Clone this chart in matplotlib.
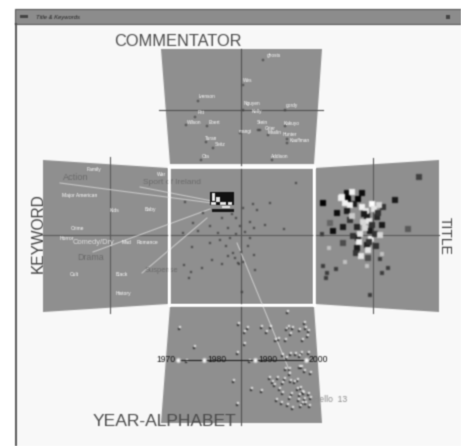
import matplotlib
matplotlib.use('Agg')
import matplotlib.pyplot as plt
import numpy as np
from matplotlib.patches import Polygon, Rectangle

plt.rcParams['font.family'] = ['Liberation Sans', 'DejaVu Sans']

# панели (пиксели картинки)
top_panel = [(161, 49), (322, 49), (314, 164), (170, 164)]
left_panel = [(43, 160), (168, 168), (168, 304), (43, 312)]
center_panel = [(170, 168), (313, 168), (313, 304), (170, 304)]
right_panel = [(315, 168), (439, 160), (439, 312), (315, 304)]
bottom_panel = [(170, 306), (314, 306), (322, 423), (161, 423)]

# подписи комментаторов
comm_names = ['ghosts', 'Wes', 'Ivenson', 'Nguyen', 'gordy', 'Kelly', 'Pitt', 'Wilson', 'Ebert',
              'Stein', 'Grier', 'mangi', 'Maslin', 'Hunter', 'Kauffman', 'Kakuyo',
              'Turan', 'Seitz', 'Ota', 'Addison']
comm_x = [274, 248, 207, 252, 292, 257, 201, 194, 214, 262, 270, 245, 275, 290, 300, 292,
          211, 220, 206, 280]
comm_y = [56, 81, 97, 104, 105, 112, 113, 123, 123, 122, 128, 131, 132, 135, 140, 123,
          139, 145, 156, 156]
comm_dot_x = [263, 243, 198, 243, 285, 243, 195, 186, 207, 258, 260, 240, 268, 287, 287, 285,
              206, 213, 201, 272]
comm_dot_y = [60, 85, 101, 110, 110, 110, 117, 125, 126, 130, 130, 133, 135, 139, 143, 126,
              142, 148, 160, 160]

# жанры (большие серые)
genre_names = ['Action', 'Sport of Ireland', 'Comedy/Dry', 'Drama', 'Suspense']
genre_x = [63, 143, 73, 77, 145]
genre_y = [178, 182, 242, 257, 271]
genre_size = [6.6, 6.0, 5.4, 6.4, 5.4]
genre_color = ['#6a6a6a', '#6a6a6a', '#e0e0e0', '#6a6a6a', '#6a6a6a']

kw_names = ['Family', 'War', 'Major American', 'Kids', 'Baby', 'Crime', 'Horror', 'Mad', 'Romance',
            'Cult', 'Black', 'History']
kw_x = [87, 157, 62, 110, 145, 71, 60, 122, 137, 70, 116, 116]
kw_y = [169, 175, 196, 211, 209, 228, 239, 243, 243, 275, 274, 294]

# линии от жанров к скоплению
link_x0 = [60, 140, 93, 142, 237]
link_y0 = [183, 187, 252, 273, 243]
link_x1 = [212, 212, 210, 207, 290]
link_y1 = [203, 201, 209, 218, 372]

# точки центральной панели
center_x = [185, 193, 198, 183, 192, 210, 212, 184, 191, 189, 202, 222, 239, 203, 210, 222, 228, 230, 220,
            233, 243, 296, 270, 253, 257, 265, 254, 250, 255, 254, 238, 242, 250, 284, 236, 232, 240, 226,
            245, 236, 248, 228, 235, 243, 218, 241]
center_y = [202, 223, 231, 233, 247, 243, 260, 265, 272, 278, 268, 264, 264, 213, 226, 218, 228, 238, 240,
            253, 208, 183, 203, 204, 210, 225, 228, 222, 270, 255, 263, 292, 238, 229, 218, 214, 226, 246,
            232, 234, 246, 256, 258, 262, 233, 252]

# скопление заглавий: x, y, яркость (0 чёрный, 1 белый)
title_x = [347, 362, 348, 358, 337, 347, 367, 377, 382, 333, 343, 357, 370, 358, 367, 357, 343, 323, 395, 419,
           408, 330, 383, 352, 341, 372, 362, 366, 374, 379, 354, 369, 363, 360, 371, 375, 359, 350, 378, 364,
           372, 352, 369, 368, 356, 380, 353, 365, 361, 376, 368, 342, 345, 350]
title_y = [193, 193, 199, 199, 213, 211, 216, 217, 225, 231, 227, 227, 231, 238, 245, 248, 243, 203, 200, 177,
           229, 223, 207, 192, 198, 204, 207, 211, 209, 205, 204, 221, 222, 234, 239, 234, 242, 220, 213, 214,
           225, 216, 242, 250, 253, 235, 236, 228, 256, 246, 258, 197, 203, 205]
title_tone = [0.05, 0.05, 0.0, 0.0, 0.05, 0.1, 0.1, 0.15, 0.1, 0.05, 0.1, 0.15, 0.1, 0.05, 0.1, 0.1, 0.3, 0.0, 0.1, 0.25,
              0.35, 0.4, 0.2, 0.95, 0.95, 1.0, 0.95, 0.9, 0.9, 0.85, 0.1, 0.9, 0.85, 0.9, 0.95, 0.2, 0.95, 0.2, 0.2, 0.1,
              0.2, 0.8, 0.2, 0.9, 0.2, 0.85, 0.2, 0.85, 0.9, 0.2, 0.3, 0.95, 0.95, 0.95]

# редкие мелкие точки заглавий
title_low_x = [323, 327, 326, 336, 382, 388, 380, 370, 322]
title_low_y = [266, 273, 278, 269, 273, 268, 259, 295, 234]
title_light_x = [329, 345, 367, 382]
title_light_y = [248, 262, 266, 254]

# белые пятна в чёрном блоке центра
blob_x = [212, 216, 220, 228, 211, 222]
blob_y = [193, 197, 202, 202, 202, 206]
blob_w = [3, 4, 6, 4, 5, 8]
blob_h = [8, 5, 3, 3, 3, 2]

# год-алфавит: белые точки со смещённой тёмной
year_x = [180, 195, 239, 245, 248, 245, 238, 187, 234, 250, 262, 267, 271, 276, 279, 286, 287, 289, 291, 293,
          300, 303, 308, 288, 305, 306, 309, 296, 302, 287, 291, 300, 309, 283, 286, 290, 302, 305, 311, 298,
          300, 290, 291, 283, 295, 292, 301, 304, 305, 309, 306, 262, 252, 238, 270, 273, 278, 275, 280, 285,
          283, 290, 277, 282, 299, 301, 303, 288, 293, 300, 303, 311, 298, 310]
year_y = [327, 346, 323, 331, 327, 343, 352, 360, 380, 360, 326, 331, 326, 339, 338, 339, 328, 326, 333, 327,
          329, 339, 335, 311, 322, 327, 330, 353, 352, 357, 353, 355, 352, 354, 368, 368, 366, 370, 372, 379,
          366, 373, 380, 382, 381, 393, 387, 392, 398, 393, 402, 390, 388, 403, 377, 381, 377, 384, 388, 378,
          392, 397, 399, 402, 399, 405, 402, 404, 407, 394, 391, 397, 388, 405]

year_labels = ['1970', '1980', '1990', '2000']
year_tick_x = [178, 204, 255, 306]
year_axis_y = 360


def soften(image, dpi):
    # лёгкое размытие как на скане
    pad = 2
    a = np.pad(image, ((pad, pad), (pad, pad), (0, 0)))
    a[..., :3] *= a[..., 3:]
    for axis in (0, 1):
        a = 0.2 * np.roll(a, 1, axis) + 0.6 * a + 0.2 * np.roll(a, -1, axis)
    alpha = np.clip(a[..., 3:], 1e-4, None)
    a[..., :3] = np.clip(a[..., :3] / alpha, 0, 1)
    return a, -pad, -pad


fig = plt.figure(figsize=(4.61, 4.46), dpi=100, facecolor='white')
ax = fig.add_axes([0, 0, 1, 1])
ax.set_xlim(0, 461)
ax.set_ylim(446, 0)
ax.axis('off')

# окно
ax.add_patch(Rectangle((16, 9), 445, 437, fc='#f8f8f8', ec='none', zorder=0))
ax.add_patch(Rectangle((15, 9), 446, 15, fc='#8c8c8c', ec='#5a5a5a', lw=0.8, zorder=1))
ax.plot([16, 16], [24, 446], color='#555555', lw=1.4, zorder=1)
ax.text(36, 17, 'Title & Keywords', fontsize=4.2, style='italic', color='#222222', va='center', zorder=2)
ax.add_patch(Rectangle((20, 15), 8, 3, fc='#444444', ec='none', zorder=2))
ax.add_patch(Rectangle((446, 15), 4, 4, fc='#444444', ec='none', zorder=2))

# панели
for poly in [top_panel, left_panel, center_panel, right_panel, bottom_panel]:
    ax.add_patch(Polygon(poly, closed=True, fc='#8f8f8f', ec='none', zorder=1))

# оси
ax.plot([241, 241], [49, 425], color='#505050', lw=0.8, zorder=2)
ax.plot([43, 439], [235, 235], color='#5a5a5a', lw=0.8, zorder=2)
ax.plot([159, 323], [110, 110], color='#505050', lw=0.8, zorder=2)
ax.plot([110, 110], [157, 313], color='#5a5a5a', lw=0.8, zorder=2)
ax.plot([373, 373], [158, 313], color='#5a5a5a', lw=0.8, zorder=2)

# точки комментаторов и подписи
ax.scatter(comm_dot_x, comm_dot_y, s=2, c='#404040', marker='s', linewidths=0, zorder=3)
for name, x, y in zip(comm_names, comm_x, comm_y):
    ax.text(x, y, name, fontsize=3.4, color='white', ha='center', va='center', zorder=4)

# подписи ключевых слов
for name, x, y in zip(kw_names, kw_x, kw_y):
    ax.text(x, y, name, fontsize=3.6, color='white', va='center', zorder=4)

# связи
for x0, y0, x1, y1 in zip(link_x0, link_y0, link_x1, link_y1):
    ax.plot([x0, x1], [y0, y1], color='#c8c8c8', lw=0.8, zorder=3)

for name, x, y, size, col in zip(genre_names, genre_x, genre_y, genre_size, genre_color):
    ax.text(x, y, name, fontsize=size, color=col, va='center', zorder=4)

# центр
ax.scatter(center_x, center_y, s=3.5, c='#3c3c3c', marker='s', linewidths=0, zorder=3)
ax.add_patch(Rectangle((210, 192), 24, 13, fc='#111111', ec='none', zorder=4))
ax.add_patch(Rectangle((212, 209), 22, 3, fc='#151515', ec='none', zorder=4))
for x, y, w, h in zip(blob_x, blob_y, blob_w, blob_h):
    ax.add_patch(Rectangle((x, y), w, h, fc='#e8e8e8', ec='none', zorder=5))

# скопление заглавий
ax.scatter(title_x, title_y, s=14, c=title_tone, cmap='gray', vmin=0, vmax=1,
           marker='s', linewidths=0, zorder=3)
ax.scatter(title_low_x, title_low_y, s=5, c='#3c3c3c', marker='s', linewidths=0, zorder=3)
ax.scatter(title_light_x, title_light_y, s=5, c='#c4c4c4', marker='s', linewidths=0, zorder=3)

# белые рамки панелей
ax.plot([169, 169], [166, 305], color='white', lw=1.8, zorder=6)
ax.plot([314, 314], [166, 305], color='white', lw=1.8, zorder=6)
ax.plot([169, 314], [167, 167], color='white', lw=1.8, zorder=6)
ax.plot([169, 314], [305, 305], color='white', lw=1.8, zorder=6)

# год-алфавит
ax.scatter([x - 1.5 for x in year_x], [y + 2 for y in year_y], s=4, c='#252525', marker='s', linewidths=0, zorder=3)
ax.scatter(year_x, year_y, s=4, c='#f4f4f4', marker='s', linewidths=0, zorder=4)
ax.plot([year_tick_x[0], year_tick_x[-1]], [year_axis_y, year_axis_y], color='#222222', lw=0.8, zorder=5)
ax.scatter(year_tick_x, [year_axis_y] * 4, s=10, c='white', marker='o', linewidths=0, zorder=6)
for label, x in zip(year_labels, year_tick_x):
    ax.text(x - 2 if label == '1970' else x + 3, year_axis_y, label, fontsize=6.2, color='#111111',
            ha='right' if label == '1970' else 'left', va='center', zorder=7)
ax.text(313, 400, 'Hello  13', fontsize=6.2, color='#8a8a8a', va='center', zorder=7)

# названия панелей
ax.text(114, 42, 'COMMENTATOR', fontsize=11.8, color='#4a4a4a', va='center', zorder=7)
ax.text(38, 233, 'KEYWORD', fontsize=11.2, color='#3c3c3c', rotation=90, ha='center', va='center', zorder=7)
ax.text(445, 236, 'TITLE', fontsize=10, color='#3c3c3c', rotation=-90, ha='center', va='center', zorder=7)
ax.text(93, 421, 'YEAR-ALPHABET', fontsize=12.6, color='#4a4a4a', va='center', zorder=7)

for artist in ax.get_children():
    if artist not in (ax.patch, ax.xaxis, ax.yaxis):
        artist.set_agg_filter(soften)

fig.savefig('out.png', dpi=100)
